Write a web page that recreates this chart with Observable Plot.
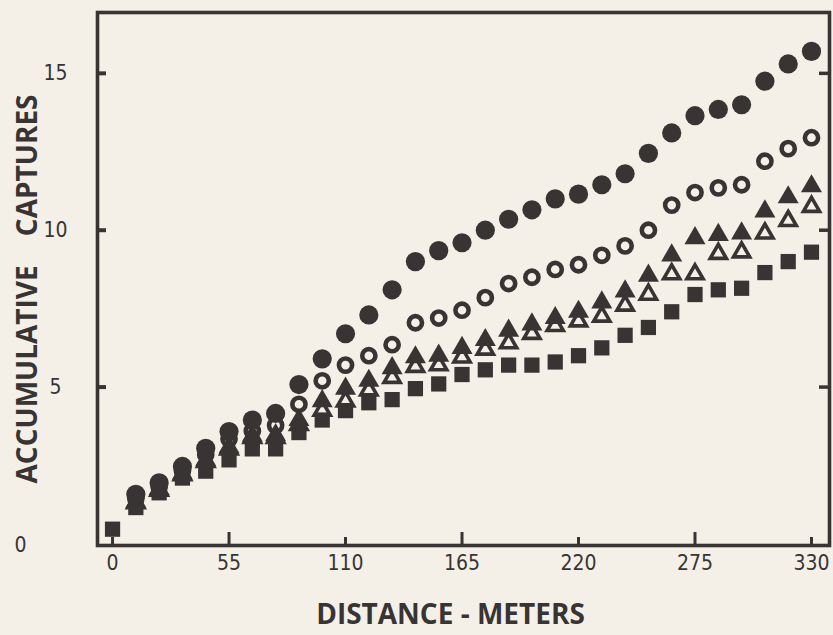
<!DOCTYPE html>
<html><head><meta charset="utf-8">
<script src="https://cdn.jsdelivr.net/npm/d3@7"></script>
<script src="https://cdn.jsdelivr.net/npm/@observablehq/plot@0.6"></script>
<style>html,body{margin:0;padding:0;background:#f4f0e7;}</style>
</head><body><div id="chart"></div>
<script>
// ---- data ----
const distance = [0, 11, 22, 33, 44, 55, 66, 77, 88, 99, 110, 121, 132, 143, 154, 165, 176, 187, 198, 209, 220, 231, 242, 253, 264, 275, 286, 297, 308, 319, 330];
const filledCircles = [null, 1.58, 1.95, 2.47, 3.05, 3.58, 3.95, 4.16, 5.08, 5.9, 6.7, 7.3, 8.1, 9.0, 9.35, 9.6, 10.0, 10.35, 10.65, 11.0, 11.15, 11.45, 11.8, 12.45, 13.1, 13.65, 13.85, 14.0, 14.75, 15.3, 15.7];
const openCircles = [null, 1.45, 1.82, 2.33, 2.85, 3.35, 3.6, 3.78, 4.45, 5.2, 5.7, 6.0, 6.35, 7.05, 7.2, 7.45, 7.85, 8.3, 8.5, 8.75, 8.9, 9.2, 9.5, 10.0, 10.8, 11.2, 11.35, 11.45, 12.2, 12.6, 12.95];
const filledTriangles = [null, 1.35, 1.75, 2.25, 2.68, 3.08, 3.45, 3.47, 3.95, 4.55, 4.95, 5.2, 5.6, 5.95, 6.0, 6.25, 6.5, 6.8, 7.0, 7.2, 7.4, 7.7, 8.05, 8.55, 9.2, 9.75, 9.85, 9.9, 10.6, 11.05, 11.4];
const openTriangles = [null, 1.3, 1.7, 2.2, 2.62, 3.02, 3.38, 3.38, 3.8, 4.25, 4.55, 4.9, 5.3, 5.65, 5.7, 5.95, 6.2, 6.4, 6.7, 6.95, 7.1, 7.25, 7.6, 7.95, 8.6, 8.6, 9.25, 9.3, 9.9, 10.3, 10.75];
const filledSquares = [0.47, 1.16, 1.63, 2.1, 2.32, 2.68, 3.03, 3.03, 3.55, 3.95, 4.25, 4.5, 4.6, 4.95, 5.1, 5.4, 5.55, 5.7, 5.7, 5.8, 6.0, 6.25, 6.65, 6.9, 7.4, 7.95, 8.1, 8.15, 8.65, 9.0, 9.3];

const xTickLabels = [0, 55, 110, 165, 220, 275, 330];
const xLongTicks = [55, 165, 275];
const xShortTicks = [0, 110, 220, 330];
const yTickLabels = [5, 10, 15];
const yZeroLabel = [0];
const xTitle = "DISTANCE - METERS";
const yTitle = "ACCUMULATIVE\u00a0\u00a0\u00a0\u00a0CAPTURES";

// ---- styling ----
const INK = "#383434";
const PAPER = "#f4f0e7";
const TITLE_FONT = "'Open Sans', 'DejaVu Sans', sans-serif";
const TICK_FONT = "'Liberation Sans Narrow', 'DejaVu Sans Condensed', 'Roboto Condensed', Roboto, sans-serif";

function rows(values) {
  return distance.map((d, i) => ({distance: d, captures: values[i]})).filter(d => d.captures != null);
}

const chart = Plot.plot({
  width: 833,
  height: 635,
  marginLeft: 97,
  marginRight: 4,
  marginTop: 12,
  marginBottom: 90,
  x: {domain: [-7.1, 338.5], label: null},
  y: {domain: [-0.05, 16.94], label: null},
  style: {background: PAPER, color: INK, fontFamily: TICK_FONT, overflow: "visible"},
  marks: [
    // data
    Plot.dot(rows(openCircles), {x: "distance", y: "captures", symbol: "circle", r: 6.6, fill: PAPER, stroke: INK, strokeWidth: 4.6}),
    Plot.dot(rows(openTriangles), {x: "distance", y: "captures", symbol: "triangle", r: 6.0, fill: PAPER, stroke: INK, strokeWidth: 3.6, strokeLinejoin: "miter"}),
    Plot.dot(rows(filledSquares), {x: "distance", y: "captures", symbol: "square", r: 8.6, fill: INK, stroke: "none"}),
    Plot.dot(rows(filledTriangles), {x: "distance", y: "captures", symbol: "triangle", r: 7.8, fill: INK, stroke: "none"}),
    Plot.dot(rows(filledCircles), {x: "distance", y: "captures", symbol: "circle", r: 9.6, fill: INK, stroke: "none"}),
    // frame
    Plot.frame({stroke: INK, strokeWidth: 3.6}),
    // inward ticks
    Plot.axisX({ticks: xLongTicks, tickSize: -13, tickFormat: () => "", strokeWidth: 3, stroke: INK}),
    Plot.axisX({ticks: xShortTicks, tickSize: -8, tickFormat: () => "", strokeWidth: 3, stroke: INK}),
    Plot.axisY({anchor: "left", ticks: yTickLabels, tickSize: -9, tickFormat: () => "", strokeWidth: 4, stroke: INK}),
    Plot.axisY({anchor: "right", ticks: yTickLabels, tickSize: -11, tickFormat: () => "", strokeWidth: 3.5, stroke: INK}),
    // tick labels
    Plot.axisX({ticks: xTickLabels, tickSize: 0, tickPadding: 10, fontSize: 21, fill: INK, tickFormat: d => String(d)}),
    Plot.text(yTickLabels, {y: d => d, frameAnchor: "left", dx: -42, textAnchor: "middle", text: d => String(d), fontSize: 21, fill: INK}),
    Plot.text(yZeroLabel, {y: d => d, frameAnchor: "left", dx: -77, dy: 1, textAnchor: "middle", text: d => String(d), fontSize: 21, fill: INK}),
    // axis titles
    Plot.text([xTitle], {frameAnchor: "bottom", dy: 78, dx: -13, text: d => d, fontSize: 28, fontWeight: "bold", fontFamily: TITLE_FONT, fill: INK}),
    Plot.text([yTitle], {frameAnchor: "left", dx: -69, dy: 10, rotate: -90, textAnchor: "middle", text: d => d, fontSize: 28, fontWeight: "bold", fontFamily: TITLE_FONT, fill: INK})
  ]
});
document.getElementById("chart").append(chart);
</script></body></html>
